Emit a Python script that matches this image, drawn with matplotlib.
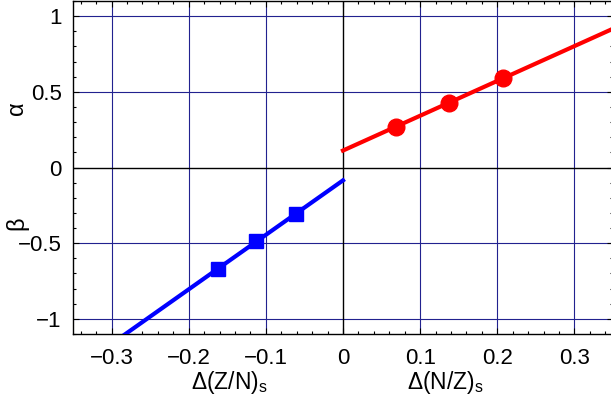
import matplotlib.pyplot as plt
import numpy as np
from matplotlib.ticker import MultipleLocator

plt.rcParams['font.family'] = ['Liberation Sans', 'DejaVu Sans']

# alpha branch: Δ(N/Z)s
alpha_line_x = [0.0, 0.35]
alpha_line_y = [0.112, 0.917]
alpha_pts_x = [0.069, 0.138, 0.207]
alpha_pts_y = [0.270, 0.428, 0.588]

# beta branch: Δ(Z/N)s
beta_line_x = [-0.35, 0.0]
beta_line_y = [-1.345, -0.085]
beta_pts_x = [-0.162, -0.113, -0.061]
beta_pts_y = [-0.673, -0.487, -0.307]

xticks = [-0.3, -0.2, -0.1, 0, 0.1, 0.2, 0.3]
xticklabels = ["\u22120.3", "\u22120.2", "\u22120.1", "0", "0.1", "0.2", "0.3"]
yticks = [-1, -0.5, 0, 0.5, 1]
yticklabels = ["\u22121", "\u22120.5", "0", "0.5", "1"]

fig = plt.figure(figsize=(6.11, 4.05), dpi=100)
ax = fig.add_axes([73 / 611, 71 / 405, 540 / 611, 333 / 405])

# grid (navy) and zero axes (black)
for xv in xticks:
    if xv != 0:
        ax.axvline(xv, color="#22228f", lw=0.8, zorder=1)
for yv in yticks:
    if yv != 0:
        ax.axhline(yv, color="#22228f", lw=0.8, zorder=1)
ax.axvline(0, color="black", lw=1.0, zorder=1)
ax.axhline(0, color="black", lw=1.0, zorder=1)

ax.plot(alpha_line_x, alpha_line_y, color="#ff0000", lw=3, zorder=3)
ax.plot(alpha_pts_x, alpha_pts_y, "o", color="#ff0000", ms=12, zorder=4)
ax.plot(beta_line_x, beta_line_y, color="#0000ff", lw=3, zorder=3)
ax.plot(beta_pts_x, beta_pts_y, "s", color="#0000ff", ms=9.5, zorder=4)

ax.set_xlim(-0.35, 0.35)
ax.set_ylim(-1.1, 1.1)
ax.set_xticks(xticks)
ax.set_xticklabels(xticklabels)
ax.set_yticks(yticks)
ax.set_yticklabels(yticklabels)
ax.xaxis.set_minor_locator(MultipleLocator(0.02))
ax.yaxis.set_minor_locator(MultipleLocator(0.1))
ax.tick_params(which="both", direction="in", top=True, right=True, labelsize=16, width=0.8)
ax.tick_params(which="major", length=4)
ax.tick_params(axis="x", which="major", pad=10)
ax.tick_params(axis="y", which="major", pad=8)
ax.tick_params(which="minor", length=2.5)
for s in ax.spines.values():
    s.set_linewidth(1.0)

# axis labels
ax.text(-0.147, -1.42, "\u0394(Z/N)$_\\mathregular{s}$", ha="center", va="center", fontsize=16.5)
ax.text(0.133, -1.42, "\u0394(N/Z)$_\\mathregular{s}$", ha="center", va="center", fontsize=16.5)
fig.text(17 / 611, 1 - 108 / 405, "\u03b1", rotation=90, ha="center", va="center", fontsize=17)
fig.text(17 / 611, 1 - 223 / 405, "\u03b2", rotation=90, ha="center", va="center", fontsize=17)

fig.savefig("out.png", dpi=100)
